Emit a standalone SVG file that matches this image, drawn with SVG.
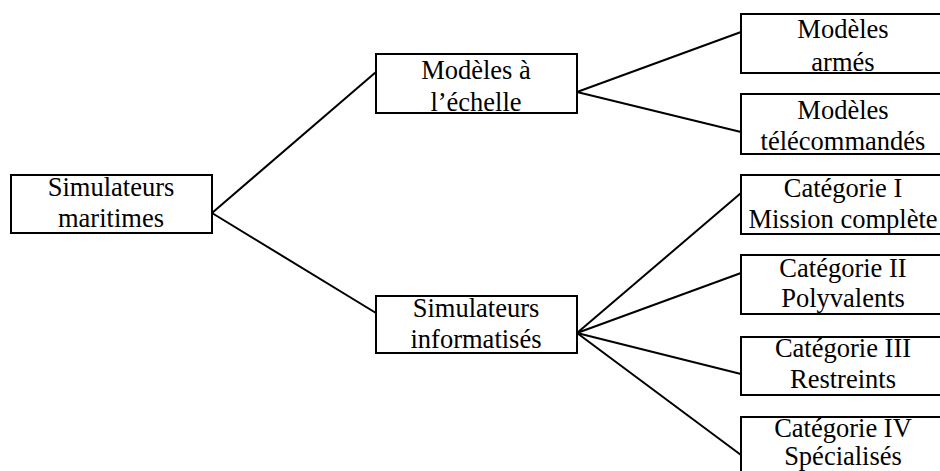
<svg xmlns="http://www.w3.org/2000/svg" width="940" height="471" viewBox="0 0 940 471">
<defs>
<style>
.box{fill:#fff;stroke:#000;stroke-width:2}
.c line{stroke:#000;stroke-width:2}
</style>
</defs>
<rect width="940" height="471" fill="#fff"/>
<g class="c" id="connectors">
<line x1="212" y1="213" x2="376" y2="72"/>
<line x1="212" y1="213" x2="376" y2="313"/>
<line x1="577" y1="92" x2="741" y2="32"/>
<line x1="577" y1="92" x2="741" y2="132"/>
<line x1="577" y1="333" x2="741" y2="193"/>
<line x1="577" y1="333" x2="741" y2="273"/>
<line x1="577" y1="333" x2="741" y2="374"/>
<line x1="577" y1="333" x2="741" y2="455"/>
</g>
<g id="root"><rect class="box" x="11" y="175" width="201" height="58"/>
<text x="111" y="196" font-family="Liberation Serif" font-size="26.5" text-anchor="middle">Simulateurs</text><text x="111" y="227" font-family="Liberation Serif" font-size="26.5" text-anchor="middle">maritimes</text></g>
<g id="echelle"><rect class="box" x="376" y="54" width="201" height="59"/>
<text x="476" y="79" font-family="Liberation Serif" font-size="26.5" text-anchor="middle">Modèles à</text><text x="476" y="111" font-family="Liberation Serif" font-size="26.5" text-anchor="middle">l’échelle</text></g>
<g id="informatises"><rect class="box" x="376" y="296" width="201" height="57"/>
<text x="476" y="317" font-family="Liberation Serif" font-size="26.5" text-anchor="middle">Simulateurs</text><text x="476" y="348" font-family="Liberation Serif" font-size="26.5" text-anchor="middle">informatisés</text></g>
<g id="armes"><rect class="box" x="741" y="14" width="204" height="59"/>
<text x="843" y="38" font-family="Liberation Serif" font-size="26.5" text-anchor="middle">Modèles</text><text x="843" y="71" font-family="Liberation Serif" font-size="26.5" text-anchor="middle">armés</text></g>
<g id="telecommandes"><rect class="box" x="741" y="94" width="204" height="60"/>
<text x="843" y="119" font-family="Liberation Serif" font-size="26.5" text-anchor="middle">Modèles</text><text x="843" y="150" font-family="Liberation Serif" font-size="26.5" text-anchor="middle">télécommandés</text></g>
<g id="cat1"><rect class="box" x="741" y="175" width="204" height="59"/>
<text x="843" y="197" font-family="Liberation Serif" font-size="26.5" text-anchor="middle">Catégorie I</text><text x="843" y="228" font-family="Liberation Serif" font-size="26.5" text-anchor="middle">Mission complète</text></g>
<g id="cat2"><rect class="box" x="741" y="255" width="204" height="59"/>
<text x="843" y="277" font-family="Liberation Serif" font-size="26.5" text-anchor="middle">Catégorie II</text><text x="843" y="307" font-family="Liberation Serif" font-size="26.5" text-anchor="middle">Polyvalents</text></g>
<g id="cat3"><rect class="box" x="741" y="337" width="204" height="58"/>
<text x="843" y="357" font-family="Liberation Serif" font-size="26.5" text-anchor="middle">Catégorie III</text><text x="843" y="388" font-family="Liberation Serif" font-size="26.5" text-anchor="middle">Restreints</text></g>
<g id="cat4"><rect class="box" x="741" y="417" width="204" height="60"/>
<text x="843" y="437" font-family="Liberation Serif" font-size="26.5" text-anchor="middle">Catégorie IV</text><text x="843" y="465" font-family="Liberation Serif" font-size="26.5" text-anchor="middle">Spécialisés</text></g>
</svg>
